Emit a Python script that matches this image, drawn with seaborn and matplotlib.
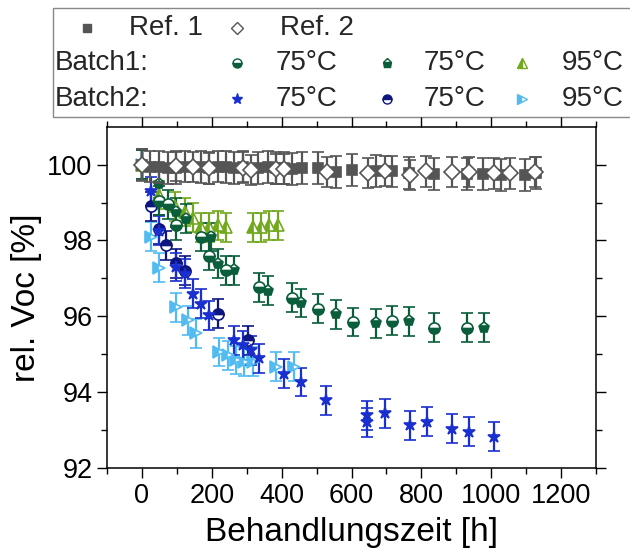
import matplotlib
matplotlib.use("Agg")
import matplotlib.pyplot as plt
from matplotlib.lines import Line2D
from matplotlib.patches import Rectangle
import seaborn as sns
import numpy as np

# ---------------- data ----------------
ref1_t = [0, 24, 50, 74, 98, 122, 170, 193, 217, 241, 265, 289, 331, 360, 384, 407,
          431, 457, 503, 555, 601, 670, 717, 764, 836, 931, 977, 1027, 1098, 1127]
ref1_v = [100.0, 99.95, 99.93, 99.9, 99.92, 99.95, 99.93, 99.9, 99.95, 99.93, 99.92,
          99.95, 99.9, 99.93, 99.92, 99.9, 99.89, 99.9, 99.91, 99.8, 99.86, 99.84,
          99.82, 99.78, 99.76, 99.76, 99.76, 99.72, 99.72, 99.77]
ref1_e = 0.42

ref2_t = [0, 98, 146, 193, 289, 313, 384, 407, 531, 646, 695, 767, 814, 889, 935, 1007, 1055, 1124]
ref2_v = [100.0, 99.97, 99.93, 99.9, 99.92, 99.85, 99.88, 99.88, 99.8, 99.78, 99.83,
          99.72, 99.82, 99.8, 99.8, 99.77, 99.77, 99.8]
ref2_e = 0.4

b1a_t = [0, 50, 74, 98, 169, 193, 241, 336, 431, 503, 603, 717, 836, 931]
b1a_v = [100.0, 99.05, 98.95, 98.4, 98.09, 97.6, 97.21, 96.77, 96.49, 96.2, 95.85, 95.88, 95.7, 95.7]
b1b_t = [0, 50, 98, 127, 198, 217, 265, 360, 455, 555, 669, 765, 979]
b1b_v = [100.0, 99.49, 98.74, 98.57, 98.09, 97.39, 97.21, 96.68, 96.35, 96.05, 95.82, 95.87, 95.7]
b1c_t = [0, 48, 96, 122, 146, 169, 193, 217, 241, 317, 341, 365, 389]
b1c_v = [100.0, 99.2, 98.9, 98.75, 98.6, 98.35, 98.35, 98.4, 98.35, 98.35, 98.35, 98.4, 98.4]

b2a_t = [0, 27, 50, 98, 122, 146, 169, 193, 265, 289, 312, 336, 407, 455, 527,
         645, 645, 695, 767, 815, 889, 936, 1009]
b2a_v = [100.0, 99.3, 98.26, 97.3, 97.12, 96.6, 96.33, 96.03, 95.37, 95.24, 95.1, 94.89,
         94.49, 94.27, 93.79, 93.39, 93.2, 93.44, 93.13, 93.22, 93.04, 92.96, 92.82]
b2b_t = [0, 27, 50, 69, 98, 122, 217, 303]
b2b_v = [100.0, 98.9, 98.3, 97.87, 97.4, 97.2, 96.07, 95.37]
b2c_t = [0, 27, 50, 98, 131, 155, 222, 246, 270, 293, 317, 384, 436]
b2c_v = [100.0, 98.1, 97.28, 96.24, 95.9, 95.55, 95.06, 94.97, 94.85, 94.8, 94.8, 94.67, 94.67]
err_c = 0.38

x_ticks = [0, 200, 400, 600, 800, 1000, 1200]
y_ticks = [92, 94, 96, 98, 100]

legend_row1 = ["Ref. 1", "Ref. 2"]
legend_rows = ["Batch1:", "Batch2:"]
legend_temps = [["75°C", "75°C", "95°C"], ["75°C", "75°C", "95°C"]]

# ---------------- style ----------------
sns.set_theme(style="ticks")
plt.rcParams['font.family'] = ['Liberation Sans', 'DejaVu Sans']

GRAY = "#555555"
DGREEN = "#0b5e3b"
YGREEN = "#72a81e"
BLUE = "#1a2fd0"
NAVY = "#0d1580"
LBLUE = "#52bbf2"

W, H = 630, 552
fig = plt.figure(figsize=(W / 100, H / 100), dpi=100)
ax = fig.add_axes([107 / W, 1 - 468 / H, (596 - 107) / W, (468 - 126.7) / H])

def eb(t, v, e, color, marker, ms, fillstyle='full', mfc=None, mfcalt='white', z=3):
    ax.errorbar(t, v, yerr=e, fmt=marker, color=color, ecolor=color, ms=ms,
                mec=color, mfc=mfc if mfc is not None else color,
                markerfacecoloralt=mfcalt, fillstyle=fillstyle, mew=1.2,
                elinewidth=1.6, capsize=4, capthick=2.6, zorder=z, linestyle='none')

eb(b2c_t, b2c_v, err_c, LBLUE, '>', 8, fillstyle='left')
eb(b2b_t, b2b_v, err_c, NAVY, 'o', 8, fillstyle='top')
eb(b2a_t, b2a_v, err_c, BLUE, '*', 9)
eb(b1c_t, b1c_v, err_c, YGREEN, '^', 8, fillstyle='left')
eb(b1b_t, b1b_v, err_c, DGREEN, 'p', 8, fillstyle='bottom')
eb(b1a_t, b1a_v, err_c, DGREEN, 'o', 8, fillstyle='bottom')
eb(ref1_t, ref1_v, ref1_e, GRAY, 's', 7.5, z=4)
eb(ref2_t, ref2_v, ref2_e, GRAY, 'D', 8, mfc='white', z=4)

ax.set_xlim(-100, 1300)
ax.set_ylim(92, 101)
ax.set_xticks(x_ticks)
ax.set_yticks(y_ticks)
ax.set_xticks(np.arange(-100, 1301, 100), minor=True)
ax.set_yticks(np.arange(93, 101, 2), minor=True)
ax.tick_params(which='both', direction='out', top=True, right=True,
               labeltop=False, labelright=False, color='black', width=1)
ax.tick_params(which='major', length=7.5, labelsize=19.5, pad=3, labelcolor='black')
ax.tick_params(which='minor', length=4)
for s in ax.spines.values():
    s.set_visible(True)
    s.set_color('black')
    s.set_linewidth(1.1)
ax.set_xlabel("Behandlungszeit [h]", fontsize=24, color='black', labelpad=6)
ax.set_ylabel("rel. Voc [%]", fontsize=24, color='black', labelpad=4)

# ---------------- legend (drawn manually) ----------------
def fx(x):
    return x / W

def fy(y):
    return 1 - y / H

fig.add_artist(Rectangle((fx(53), fy(117)), 1.0, (117 - 8) / H, transform=fig.transFigure,
                         facecolor='white', edgecolor='#888888', lw=1.0, zorder=0))

def lmark(x, y, marker, color, ms, fillstyle='full', mfc=None):
    fig.add_artist(Line2D([fx(x)], [fy(y)], transform=fig.transFigure, marker=marker,
                          ms=ms, color=color, mec=color,
                          mfc=mfc if mfc is not None else color,
                          markerfacecoloralt='white', fillstyle=fillstyle, mew=1.0,
                          linestyle='none'))

FS = 20
ROWY = [28, 63, 99]
lmark(87, ROWY[0], 's', GRAY, 6)
fig.text(fx(129), fy(ROWY[0]), legend_row1[0], fontsize=FS, va='center', ha='left')
lmark(237, ROWY[0], 'D', GRAY, 6, mfc='white')
fig.text(fx(280), fy(ROWY[0]), legend_row1[1], fontsize=FS, va='center', ha='left')

col_mx = [237, 387, 522]
col_tx = [276, 424, 562]
styles = [
    [(DGREEN, 'o', 6.5, 'bottom'), (DGREEN, 'p', 6.5, 'bottom'), (YGREEN, '^', 6.5, 'left')],
    [(BLUE, '*', 8, 'full'), (NAVY, 'o', 6.5, 'top'), (LBLUE, '>', 6.5, 'left')],
]
for r in range(2):
    y = ROWY[r + 1]
    fig.text(fx(55), fy(y), legend_rows[r], fontsize=FS, va='center', ha='left')
    for c in range(3):
        col, mk, ms, fs = styles[r][c]
        lmark(col_mx[c], y, mk, col, ms, fillstyle=fs)
        fig.text(fx(col_tx[c]), fy(y), legend_temps[r][c], fontsize=FS, va='center', ha='left')

fig.savefig("out.png", dpi=100)
